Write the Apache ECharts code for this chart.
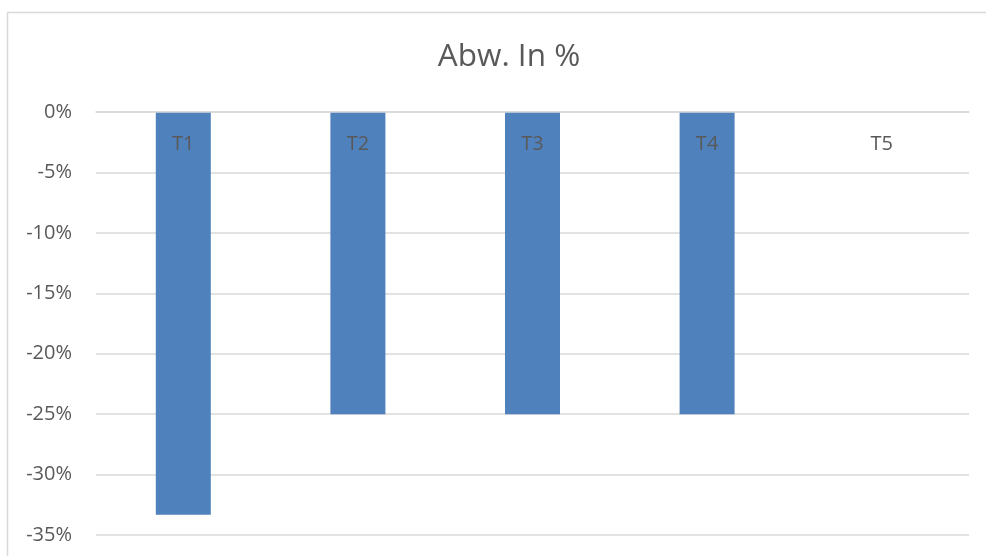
<!DOCTYPE html>
<html>
<head>
<meta charset="utf-8">
<script src="https://cdn.jsdelivr.net/npm/echarts@6/dist/echarts.min.js"></script>
<style>
  html, body { margin: 0; padding: 0; background: #fff; }
  #chart { width: 986px; height: 556px; }
</style>
</head>
<body>
<div id="chart"></div>
<script>
const categories = ['T1', 'T2', 'T3', 'T4', 'T5']
const deviation = [-33.33, -25, -25, -25, 0]
const yMin = -35
const yMax = 0
const yStep = 5

const textColor = '#595959'
const gridColor = '#d9d9d9'
const fontFamily = "'Open Sans', 'Liberation Sans', sans-serif"

const chart = echarts.init(document.getElementById('chart'))

chart.setOption({
  backgroundColor: '#fff',
  animation: false,
  title: {
    text: 'Abw. In %',
    left: 504,
    top: 36,
    textAlign: 'center',
    textStyle: { color: textColor, fontSize: 31.5, fontWeight: 'normal', fontFamily },
  },
  grid: { left: 96, right: 17, top: 112, bottom: 21, outerBoundsMode: 'none' },
  xAxis: {
    type: 'category',
    data: categories,
    position: 'top',
    axisLine: { show: true, lineStyle: { color: gridColor, width: 1.5 } },
    axisTick: { show: false },
    // Excel draws the category names just under the zero line
    axisLabel: { inside: true, color: textColor, fontSize: 20, margin: 22, fontFamily },
    z: 3,
  },
  yAxis: {
    type: 'value',
    min: yMin,
    max: yMax,
    interval: yStep,
    axisLine: { show: false },
    axisTick: { show: false },
    axisLabel: { color: textColor, fontSize: 20, margin: 24, fontFamily, formatter: '{value}%' },
    splitLine: { lineStyle: { color: gridColor, width: 1.5 } },
  },
  series: [
    {
      type: 'bar',
      data: deviation,
      barWidth: '31.5%',
      itemStyle: { color: '#4f81bd' },
      z: 1,
    },
  ],
  graphic: [
    {
      type: 'rect',
      shape: { x: 7.5, y: 12.5, width: 1000, height: 600 },
      style: { fill: 'none', stroke: gridColor, lineWidth: 1.5 },
      silent: true,
    },
  ],
})
</script>
</body>
</html>
